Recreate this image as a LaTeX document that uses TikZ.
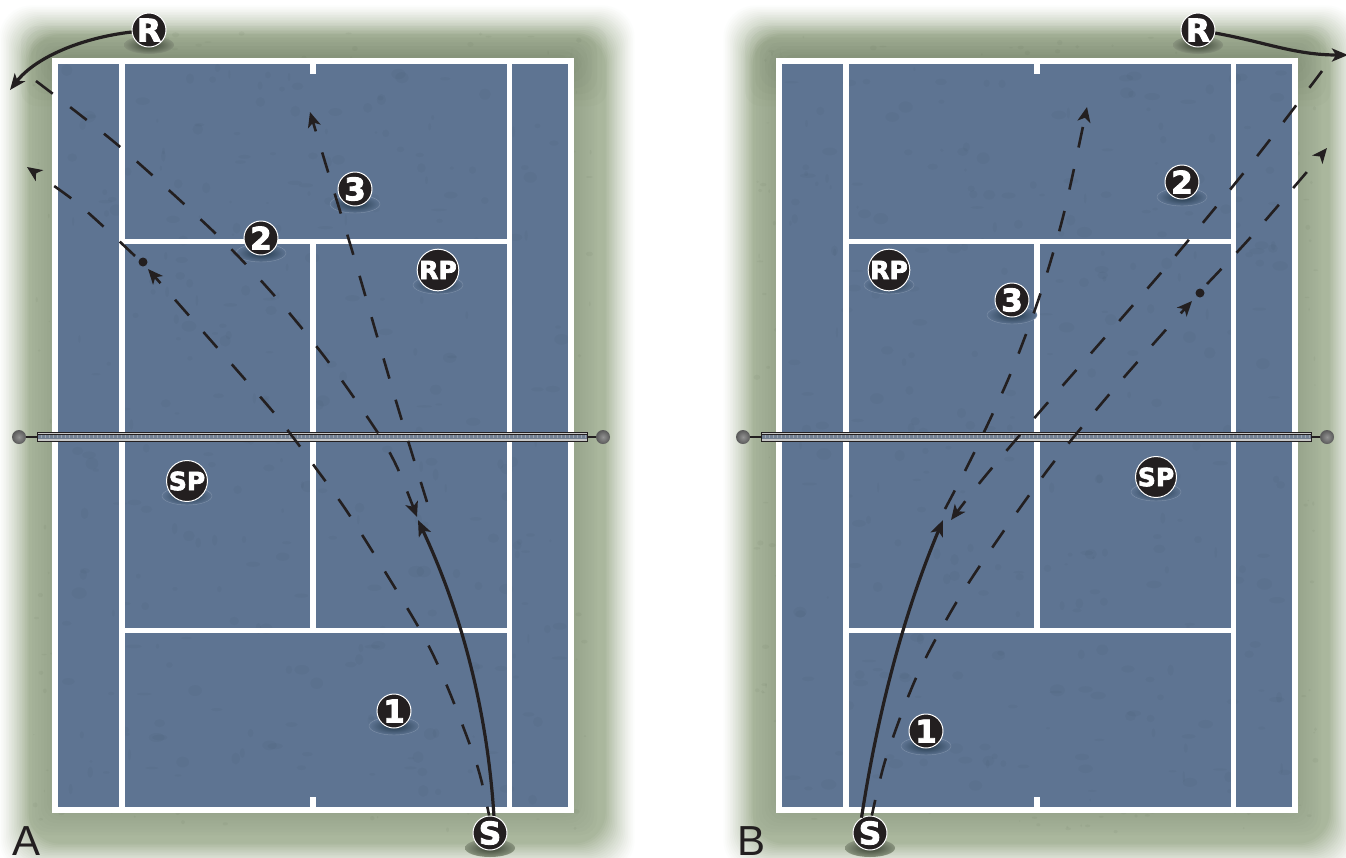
\documentclass[tikz,border=0pt]{standalone}
\usepackage{fontspec}
\setsansfont{Liberation Sans}
\newfontfamily\playerfont[BoldFeatures={FakeBold=3}]{DejaVu Sans}
\usepackage{xcolor}
\usetikzlibrary{arrows.meta,shapes.geometric}
\definecolor{courtblue}{HTML}{5E7492}
\definecolor{claydark}{HTML}{213749}
\definecolor{grassgreen}{HTML}{AAB79D}
\definecolor{grassspot}{HTML}{4F5C46}
\definecolor{ink}{HTML}{231F20}

\begin{document}
\begin{tikzpicture}[
  x=0.5pt, y=-0.5pt,
  courtline/.style={white, line width=2.8pt},
  player/.style={circle, fill=ink, draw=white, line width=0.5pt,
                 minimum size=17pt, inner sep=0pt, text=white,
                 font=\playerfont\bfseries\fontsize{15.5}{15.5}\selectfont},
  pairplayer/.style={player, font=\playerfont\bfseries\fontsize{12.5}{12.5}\selectfont},
  onclay/.style={ellipse, minimum width=25pt, minimum height=9pt, inner sep=0pt,
                 shade, inner color=claydark, outer color=courtblue,
                 draw=courtblue!80!white, line width=0.2pt},
  ongrass/.style={ellipse, minimum width=25pt, minimum height=9pt, inner sep=0pt,
                  shade, inner color=grassspot!70!black, outer color=grassgreen!80!black},
  ball/.style={circle, fill=ink, minimum size=4.5pt, inner sep=0pt},
  post/.style={shade, inner color=gray!85, outer color=black!65},
  panel/.style={font=\sffamily\fontsize{21}{21}\selectfont, text=ink, anchor=base, inner sep=0pt},
  flight/.style={ink, line width=1.6pt, -{Stealth[length=8pt,width=6.5pt,inset=2pt]}},
  shot/.style={ink, line width=1.3pt, dash pattern=on 10.5pt off 11pt,
               -{Stealth[length=7.5pt,width=6.5pt,inset=2pt]}}
]
\useasboundingbox (0,0) rectangle (1346,858);
\pgfmathsetseed{41}

%% --- Grass and court, once per panel ---------------------------
\foreach \dx in {0,724} {
  \begin{scope}[xshift=\dx*0.5pt]
    \foreach \i in {0,...,19} {
      \pgfmathsetmacro\mixval{100*(\i/19)^1.2}
      \fill[grassgreen!\mixval!white, rounded corners=16pt]
        (\i*1.6-2,\i*1.6+4) rectangle (636-\i*1.6,874-\i*1.6);
    }
    %% darker halo round the court, stronger along the top
    \foreach \i in {1,...,8} {
      \fill[grassspot, opacity=0.022, rounded corners=8pt]
        (26+\i*3,34+\i*3) rectangle (600-\i*3,838-\i*3);
      \fill[grassspot, opacity=0.028, rounded corners=8pt]
        (16+\i*5,22+\i*4) rectangle (612-\i*5,112-\i*6);
    }
    \foreach \i in {1,...,520} {
      \fill[grassspot, opacity=0.07] (rnd*560+32,rnd*800+32) ellipse (rnd*3+0.6 and rnd*2+0.6);
    }

    \fill[courtblue] (55,61) rectangle (571,810);
    \foreach \i in {1,...,300} {
      \fill[black, opacity=0.022] (rnd*500+62,rnd*735+68) ellipse (rnd*7+1 and rnd*5+1);
    }
    \draw[courtline, line cap=round] (55,61) rectangle (571,810);
    \draw[courtline] (122,61) -- (122,810);
    \draw[courtline] (509.5,61) -- (509.5,810);
    \draw[courtline] (122,241.5) -- (509.5,241.5);
    \draw[courtline] (122,630.5) -- (509.5,630.5);
    \draw[courtline] (313,241.5) -- (313,630.5);
    \draw[courtline] (313,61) -- (313,74);
    \draw[courtline] (313,797) -- (313,810);

    %% --- Net ---
    \draw[ink, line width=1pt] (19,437) -- (37,437);
    \draw[ink, line width=1pt] (587,437) -- (603,437);
    \fill[gray!45] (37,432) rectangle (587,441);
    \fill[courtblue!85!black, opacity=0.7] (37,435) rectangle (587,438.5);
    \draw[white, opacity=0.3, line width=1.5pt, dash pattern=on 0.5pt off 1.5pt] (37,436.7) -- (587,436.7);
    \draw[ink, line width=0.45pt] (37,432) rectangle (587,441);
    \draw[ink, line width=0.3pt] (37,434.7) -- (587,434.7);
    \shade[post] (19,437) circle (7);
    \shade[post] (603,437) circle (7);
  \end{scope}
}

%% --- Players ----------------------------------------------------
\foreach \tag/\x/\y/\lab/\kind/\base in {
    aR/149/30/R/player/ongrass, a3/355/189/3/player/onclay, a2/261/238/2/player/onclay,
    aRP/438/270/RP/pairplayer/onclay, aSP/187/481/SP/pairplayer/onclay,
    a1/394/711/1/player/onclay, aS/490/833/S/player/ongrass,
    bR/1198/30/R/player/ongrass, b2/1182/182/2/player/onclay, bRP/889/270/RP/pairplayer/onclay,
    b3/1012/300/3/player/onclay, bSP/1156/477/SP/pairplayer/onclay,
    b1/926/731/1/player/onclay, bS/870/833/S/player/ongrass} {
  \node[\base] (\tag base) at (\x,\y+15) {};
  \node[\kind] (\tag) at (\x,\y) {\lab};
}

%% --- Contact points ---------------------------------------------
\node[ball] (aContact) at (143,262) {};
\node[ball] (bContact) at (1200,293) {};
\coordinate (aBounce) at (418,520);
\coordinate (aWide)   at (10,90);
\coordinate (aAngle)  at (27,167);
\coordinate (aDeep)   at (310,112);
\coordinate (bBounce) at (943,520);
\coordinate (bWide)   at (1348,55);
\coordinate (bAngle)  at (1327,148);
\coordinate (bDeep)   at (1087,107);

%% --- Panel A: shots ---------------------------------------------
\draw[flight] (aS.77) .. controls (488,720) and (465,620) .. (aBounce);
\draw[flight] (aR) .. controls (80,38) and (35,58) .. (aWide);
\draw[shot, dash phase=6pt] plot[smooth, tension=0.5] coordinates
  {(aS.93) (477,765) (447,686) (419,628) (352,519) (315,467) (289,432) (263,400) (148,269)};
\draw[shot] plot[smooth, tension=0.5] coordinates
  {(135,256) (104,227) (72,199) (aAngle)};
\draw[shot] plot[smooth, tension=0.5] coordinates
  {(36,81) (119,146) (214,232) (273,294) (327,360) (376,430) (397,467) (417,517)};
\draw[shot] plot[smooth, tension=0.5] coordinates
  {(427,502) (396,401) (354,257) (329,175) (aDeep)};

%% --- Panel B: shots ---------------------------------------------
\draw[flight] (bS.119) .. controls (878,710) and (905,610) .. (bBounce);
\draw[flight] (bR) .. controls (1265,42) and (1295,55) .. (bWide);
\draw[shot, dash phase=2.5pt] plot[smooth, tension=0.5] coordinates
  {(bS.84) (886,758) (916,678) (956,603) (1003,532) (1053,463) (1107,397) (1163,333) (1192,301)};
\draw[shot] plot[smooth, tension=0.5] coordinates
  {(1207,284) (1250,238) (1306,173) (bAngle)};
\draw[shot] plot[smooth, tension=0.5] coordinates
  {(1322,71) (1258,155) (1177,254) (1107,335) (1037,415) (982,480) (951,520)};
\draw[shot] plot[smooth, tension=0.5] coordinates
  {(945,509) (974,453) (1010,375) (1040,295) (1064,213) (bDeep)};

%% --- Panel letters ----------------------------------------------
\node[panel] (labA) at (26.5,855) {A};
\node[panel] (labB) at (752,855) {B};

\end{tikzpicture}
\end{document}
